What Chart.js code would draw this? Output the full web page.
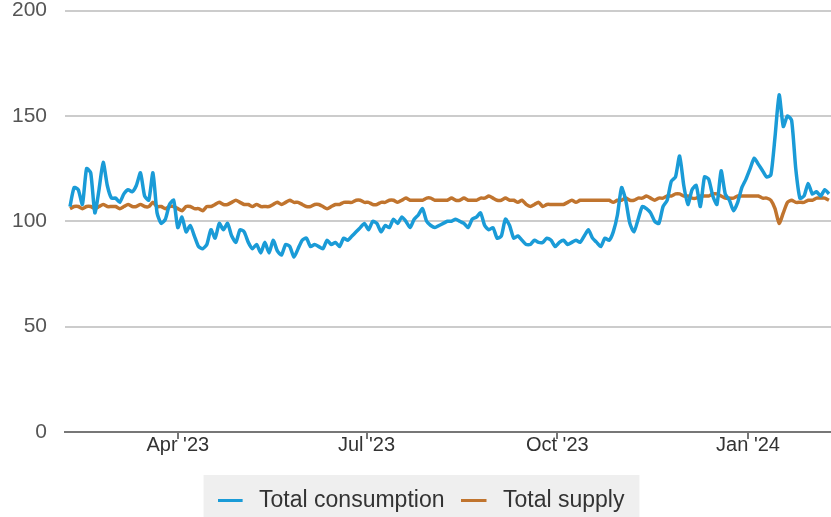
<!DOCTYPE html>
<html>
<head>
<meta charset="utf-8">
<script src="https://cdn.jsdelivr.net/npm/chart.js@4.4.1/dist/chart.umd.min.js"></script>
<style>
  html, body { margin: 0; padding: 0; background: #fff; }
  #wrap { width: 831px; height: 517px; }
</style>
</head>
<body>
<div id="wrap"><canvas id="supplyChart" width="831" height="517"></canvas></div>
<script>
// daily series sampled every 2 days, starting 8 Feb 2023
const startDate = '2023-02-08';
const stepDays = 2;

const consumption = [
  107, 116, 115, 108, 125, 123, 104, 115, 128, 117,
  111, 111, 109, 113, 115, 114, 117, 123, 112, 110,
  123, 104, 99, 101, 108, 110, 97, 102, 95, 98,
  93, 88, 87, 89, 96, 92, 99, 96, 99, 93,
  90, 96, 95, 90, 87, 89, 85, 90, 85, 91,
  86, 84, 89, 88, 83, 87, 91, 92, 88, 89,
  88, 87, 91, 89, 90, 88, 92, 91, 93, 95,
  97, 99, 96, 100, 99, 95, 98, 97, 101, 99,
  102, 100, 97, 101, 103, 106, 100, 98, 97, 98,
  99, 100, 100, 101, 100, 99, 97, 101, 102, 104,
  98, 96, 97, 92, 93, 101, 98, 92, 93, 91,
  89, 89, 91, 90, 90, 92, 91, 88, 90, 91,
  89, 90, 91, 90, 93, 96, 92, 90, 88, 92,
  91, 95, 103, 116, 110, 99, 95, 101, 107, 106,
  104, 100, 99, 107, 110, 119, 121, 131, 117, 108,
  115, 117, 107, 121, 120, 112, 108, 124, 113, 110,
  105, 109, 116, 120, 125, 130, 127, 124, 121, 122,
  140, 160, 145, 150, 148, 125, 111, 112, 118, 113,
  114, 112, 115, 113
];

const supply = [
  106, 107, 107, 106, 107, 107, 106, 107, 108, 107,
  107, 107, 106, 107, 108, 107, 107, 108, 107, 107,
  109, 107, 107, 106, 107, 107, 106, 105, 107, 107,
  106, 106, 105, 107, 107, 108, 109, 108, 108, 109,
  110, 109, 108, 108, 107, 108, 107, 107, 107, 108,
  109, 108, 109, 110, 109, 109, 108, 107, 107, 108,
  108, 107, 106, 107, 108, 108, 109, 109, 109, 110,
  110, 109, 109, 108, 108, 109, 109, 110, 110, 109,
  110, 111, 110, 110, 110, 110, 111, 111, 110, 110,
  110, 110, 111, 110, 110, 111, 110, 110, 110, 111,
  111, 112, 111, 110, 110, 111, 110, 110, 109, 110,
  108, 107, 108, 109, 107, 108, 108, 108, 108, 108,
  109, 110, 109, 110, 110, 110, 110, 110, 110, 110,
  110, 109, 110, 110, 111, 110, 110, 111, 111, 112,
  111, 110, 111, 111, 112, 112, 113, 113, 112, 112,
  111, 111, 112, 112, 112, 113, 113, 112, 111, 111,
  111, 112, 112, 112, 112, 112, 112, 111, 111, 110,
  106, 99, 104, 109, 110, 109, 109, 109, 110, 110,
  111, 111, 111, 110
];

const tickDates = ['2023-04-01', '2023-07-01', '2023-10-01', '2024-01-01'];
const tickLabels = ["Apr '23", "Jul '23", "Oct '23", "Jan '24"];
const yTicks = [0, 50, 100, 150, 200];

const DAY = 86400000;
const dayOffset = d => Math.round((Date.parse(d) - Date.parse(startDate)) / DAY);
const tickDays = tickDates.map(dayOffset);
const toPoints = arr => arr.map((v, i) => ({ x: i * stepDays, y: v }));

const FONT = "'Liberation Sans', Arial, sans-serif";
const BLUE = '#1a9bd7';
const ORANGE = '#c0742e';

// short line used as legend symbol, with a little space before the text
function legendMarker(color) {
  const c = document.createElement('canvas');
  c.width = 30;
  c.height = 3;
  const g = c.getContext('2d');
  g.fillStyle = color;
  g.fillRect(0, 0, 25, 3);
  return c;
}

// grey box behind the legend
const legendBox = {
  id: 'legendBox',
  beforeDraw(chart) {
    const boxes = chart.legend && chart.legend.legendHitBoxes;
    if (!boxes || !boxes.length) return;
    const left = Math.min(...boxes.map(b => b.left)) - 14;
    const right = Math.max(...boxes.map(b => b.left + b.width)) + 15;
    const top = Math.min(...boxes.map(b => b.top)) - 14;
    const c = chart.ctx;
    c.save();
    c.fillStyle = '#efefef';
    c.fillRect(left, top, right - left, chart.height - top);
    c.restore();
  }
};

const ctx = document.getElementById('supplyChart').getContext('2d');
new Chart(ctx, {
  type: 'line',
  data: {
    datasets: [
      {
        label: 'Total consumption',
        data: toPoints(consumption),
        borderColor: BLUE,
        backgroundColor: BLUE,
        borderWidth: 3.5,
        pointRadius: 0,
        pointStyle: legendMarker(BLUE),
        tension: 0.2
      },
      {
        label: 'Total supply',
        data: toPoints(supply),
        borderColor: ORANGE,
        backgroundColor: ORANGE,
        borderWidth: 3.5,
        pointRadius: 0,
        pointStyle: legendMarker(ORANGE),
        tension: 0.2
      }
    ]
  },
  options: {
    responsive: false,
    animation: false,
    events: [],
    layout: { padding: { top: 0, right: 0, left: 11, bottom: -5 } },
    scales: {
      x: {
        type: 'linear',
        min: -2.4,
        max: 367,
        afterBuildTicks: scale => {
          scale.ticks = tickDays.map(v => ({ value: v }));
        },
        afterFit: scale => { scale.height = 40; },
        ticks: {
          autoSkip: false,
          maxRotation: 0,
          padding: -6,
          color: '#333',
          font: { family: FONT, size: 20 },
          callback: v => tickLabels[tickDays.indexOf(v)]
        },
        grid: {
          drawOnChartArea: false,
          drawTicks: true,
          tickLength: 7,
          color: '#777',
          lineWidth: 2
        },
        border: { display: true, color: '#777', width: 2 }
      },
      y: {
        min: 0,
        max: 200,
        afterBuildTicks: scale => {
          scale.ticks = yTicks.map(v => ({ value: v }));
        },
        afterFit: scale => { scale.width = 54; },
        ticks: {
          padding: -2,
          color: '#555',
          font: { family: FONT, size: 21 }
        },
        grid: {
          drawTicks: true,
          tickLength: 20,
          tickColor: 'rgba(0,0,0,0)',
          color: '#cccccc',
          lineWidth: 2
        },
        border: { display: false }
      }
    },
    plugins: {
      legend: {
        position: 'bottom',
        labels: {
          usePointStyle: true,
          pointStyleWidth: 30,
          boxHeight: 23,
          padding: 17,
          color: '#333',
          font: { family: FONT, size: 23 }
        }
      },
      tooltip: { enabled: false }
    }
  },
  plugins: [legendBox]
});
</script>
</body>
</html>
